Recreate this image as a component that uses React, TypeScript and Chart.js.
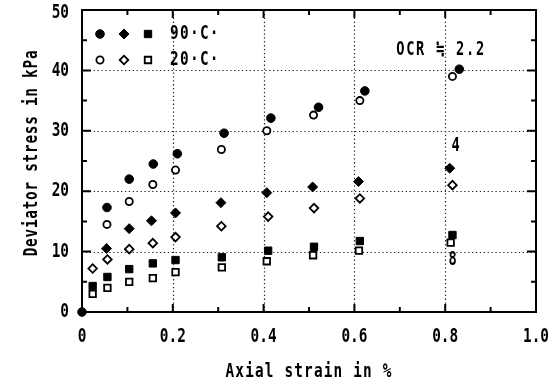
import React, { useEffect, useRef } from "react";
import { Chart, registerables } from "chart.js";

Chart.register(...registerables);

// ---- data (axial strain in %, deviator stress in kPa) ----
const strain90Ocr22 = [0, 0.055, 0.104, 0.157, 0.21, 0.313, 0.416, 0.521, 0.623, 0.831];
const stress90Ocr22 = [0, 17.3, 22.0, 24.5, 26.2, 29.6, 32.1, 33.9, 36.6, 40.2];
const strain20Ocr22 = [0.055, 0.104, 0.156, 0.206, 0.307, 0.407, 0.51, 0.612, 0.816];
const stress20Ocr22 = [14.5, 18.3, 21.1, 23.5, 26.9, 30.0, 32.6, 35.0, 39.0];

const strain90Ocr4 = [0.054, 0.104, 0.153, 0.206, 0.306, 0.407, 0.508, 0.609, 0.81];
const stress90Ocr4 = [10.5, 13.8, 15.1, 16.4, 18.1, 19.75, 20.7, 21.6, 23.8];
const strain20Ocr4 = [0.0235, 0.056, 0.104, 0.156, 0.206, 0.307, 0.41, 0.511, 0.612, 0.816];
const stress20Ocr4 = [7.2, 8.7, 10.4, 11.4, 12.4, 14.2, 15.8, 17.2, 18.8, 21.0];

const strain90Ocr8 = [0.0235, 0.056, 0.104, 0.156, 0.206, 0.308, 0.41, 0.511, 0.612, 0.816];
const stress90Ocr8 = [4.3, 5.8, 7.1, 8.05, 8.6, 9.05, 10.15, 10.8, 11.75, 12.75];
const strain20Ocr8 = [0.0235, 0.056, 0.104, 0.156, 0.206, 0.308, 0.407, 0.509, 0.61, 0.812];
const stress20Ocr8 = [3.0, 4.0, 5.0, 5.6, 6.6, 7.4, 8.4, 9.4, 10.15, 11.5];

const xTickValues = [0, 0.2, 0.4, 0.6, 0.8, 1.0];
const xTickLabels = ["0", "0.2", "0.4", "0.6", "0.8", "1.0"];
const yTickValues = [0, 10, 20, 30, 40, 50];
const yTickLabels = ["0", "10", "20", "30", "40", "50"];
const legendLabels = ["90·C·", "20·C·"];
const xTitle = "Axial strain in %";
const yTitle = "Deviator stress in kPa";
const noteTexts = ["OCR ≒ 2.2", "4", "8"];
const noteX = [0.692, 0.814, 0.807];
const noteY = [43.3, 27.5, 8.6];

const FONT = '"DejaVu Sans Mono", "Liberation Mono", monospace';

function pts(xs: number[], ys: number[]) {
  return xs.map((x, i) => ({ x, y: ys[i] }));
}

function drawText(
  ctx: CanvasRenderingContext2D,
  text: string,
  x: number,
  y: number,
  size: number,
  align: CanvasTextAlign,
  rot = 0,
  spacing = 0
) {
  ctx.save();
  ctx.translate(x, y);
  if (rot) ctx.rotate(rot);
  ctx.scale(0.72, 1);
  ctx.font = `bold ${size}px ${FONT}`;
  (ctx as any).letterSpacing = spacing + "px";
  ctx.textAlign = align;
  ctx.textBaseline = "middle";
  ctx.fillStyle = "#000";
  ctx.fillText(text, 0, 0);
  ctx.restore();
}

function marker(
  ctx: CanvasRenderingContext2D,
  kind: string,
  filled: boolean,
  x: number,
  y: number
) {
  ctx.save();
  ctx.beginPath();
  let r: number;
  if (kind === "circle") {
    r = filled ? 4.3 : 3.6;
    ctx.arc(x, y, r, 0, Math.PI * 2);
  } else if (kind === "diamond") {
    r = filled ? 5 : 4.3;
    ctx.moveTo(x, y - r);
    ctx.lineTo(x + r, y);
    ctx.lineTo(x, y + r);
    ctx.lineTo(x - r, y);
    ctx.closePath();
  } else {
    r = (filled ? 5.2 : 4.6) * Math.SQRT1_2;
    ctx.rect(x - r, y - r, 2 * r, 2 * r);
  }
  ctx.fillStyle = filled ? "#000" : "#fff";
  ctx.fill();
  ctx.lineWidth = filled ? 1 : 1.8;
  ctx.strokeStyle = "#000";
  ctx.stroke();
  ctx.restore();
}

const framePlugin = {
  id: "frame",
  beforeDatasetsDraw(chart: any) {
    const { ctx, chartArea: a, scales } = chart;
    const xs = scales.x;
    const ys = scales.y;
    ctx.save();
    // dotted grid
    ctx.strokeStyle = "#222";
    ctx.lineWidth = 1.2;
    ctx.setLineDash([1.3, 2.6]);
    xTickValues.slice(1, -1).forEach((v) => {
      const px = Math.round(xs.getPixelForValue(v)) + 0.5;
      ctx.beginPath();
      ctx.moveTo(px, a.top);
      ctx.lineTo(px, a.bottom);
      ctx.stroke();
    });
    yTickValues.slice(1, -1).forEach((v) => {
      const py = Math.round(ys.getPixelForValue(v)) + 0.5;
      ctx.beginPath();
      ctx.moveTo(a.left, py);
      ctx.lineTo(a.right, py);
      ctx.stroke();
    });
    ctx.setLineDash([]);
    // frame
    ctx.lineWidth = 2;
    ctx.strokeStyle = "#000";
    ctx.strokeRect(a.left, a.top, a.right - a.left, a.bottom - a.top);
    // tick marks (inside)
    for (let i = 0; i <= 10; i++) {
      const px = xs.getPixelForValue(i / 10);
      const len = i % 2 === 0 ? 8 : 5;
      ctx.beginPath();
      ctx.moveTo(px, a.bottom);
      ctx.lineTo(px, a.bottom - len);
      ctx.moveTo(px, a.top);
      ctx.lineTo(px, a.top + len);
      ctx.stroke();
    }
    for (let i = 0; i <= 10; i++) {
      const py = ys.getPixelForValue(i * 5);
      const len = i % 2 === 0 ? 9 : 5;
      ctx.beginPath();
      ctx.moveTo(a.left, py);
      ctx.lineTo(a.left + len, py);
      ctx.moveTo(a.right, py);
      ctx.lineTo(a.right - len, py);
      ctx.stroke();
    }
    ctx.restore();
  },
  afterDatasetsDraw(chart: any) {
    const { ctx, chartArea: a, scales } = chart;
    const xs = scales.x;
    const ys = scales.y;
    // tick labels
    xTickValues.forEach((v, i) => {
      drawText(ctx, xTickLabels[i], xs.getPixelForValue(v), a.bottom + 25, 20, "center");
    });
    yTickValues.forEach((v, i) => {
      drawText(ctx, yTickLabels[i], a.left - 13, ys.getPixelForValue(v) + (i === 5 ? 3 : 0), 20, "right");
    });
    // axis titles
    drawText(ctx, xTitle, (a.left + a.right) / 2, a.bottom + 60, 20, "center", 0, 1.6);
    drawText(ctx, yTitle, 32, (a.top + a.bottom) / 2 - 8, 20, "center", -Math.PI / 2, 1.0);
    // annotations
    noteTexts.forEach((t, i) => {
      drawText(ctx, t, xs.getPixelForValue(noteX[i]), ys.getPixelForValue(noteY[i]), 19, "left", 0, i === 0 ? 2.4 : 1.0);
    });
    // legend
    const kinds = ["circle", "diamond", "square"];
    [true, false].forEach((filled, row) => {
      const y = a.top + 24 + row * 26;
      kinds.forEach((k, j) => marker(ctx, k, filled, a.left + 18 + j * 24, y));
      drawText(ctx, legendLabels[row], a.left + 88, y, 20, "left", 0, 1.8);
    });
  },
};

export default function App() {
  const ref = useRef<HTMLCanvasElement | null>(null);
  useEffect(() => {
    if (!ref.current) return;
    const filled = { backgroundColor: "#000", borderColor: "#000", borderWidth: 1 };
    const open = { backgroundColor: "#fff", borderColor: "#000", borderWidth: 1.8 };
    const chart = new Chart(ref.current, {
      type: "scatter",
      data: {
        datasets: [
          { label: "90C OCR 2.2", data: pts(strain90Ocr22, stress90Ocr22), pointStyle: "circle", pointRadius: 4.3, ...filled },
          { label: "90C OCR 4", data: pts(strain90Ocr4, stress90Ocr4), pointStyle: "rectRot", pointRadius: 5, ...filled },
          { label: "90C OCR 8", data: pts(strain90Ocr8, stress90Ocr8), pointStyle: "rect", pointRadius: 5.2, ...filled },
          { label: "20C OCR 2.2", data: pts(strain20Ocr22, stress20Ocr22), pointStyle: "circle", pointRadius: 3.6, ...open },
          { label: "20C OCR 4", data: pts(strain20Ocr4, stress20Ocr4), pointStyle: "rectRot", pointRadius: 4.3, ...open },
          { label: "20C OCR 8", data: pts(strain20Ocr8, stress20Ocr8), pointStyle: "rect", pointRadius: 4.6, ...open },
        ].map((d) => ({ ...d, showLine: false, clip: false, pointHoverRadius: d.pointRadius })) as any,
      },
      options: {
        animation: false,
        responsive: false,
        layout: { autoPadding: false, padding: { left: 82, right: 17, top: 10, bottom: 75 } },
        plugins: { legend: { display: false }, tooltip: { enabled: false } },
        scales: {
          x: { type: "linear", min: 0, max: 1, display: false },
          y: { type: "linear", min: 0, max: 50, display: false },
        },
      },
      plugins: [framePlugin],
    });
    return () => chart.destroy();
  }, []);
  return (
    <div style={{ position: "fixed", left: 0, top: 0, width: 553, height: 387 }}>
      <canvas ref={ref} width={553} height={387} style={{ display: "block" }} />
    </div>
  );
}
